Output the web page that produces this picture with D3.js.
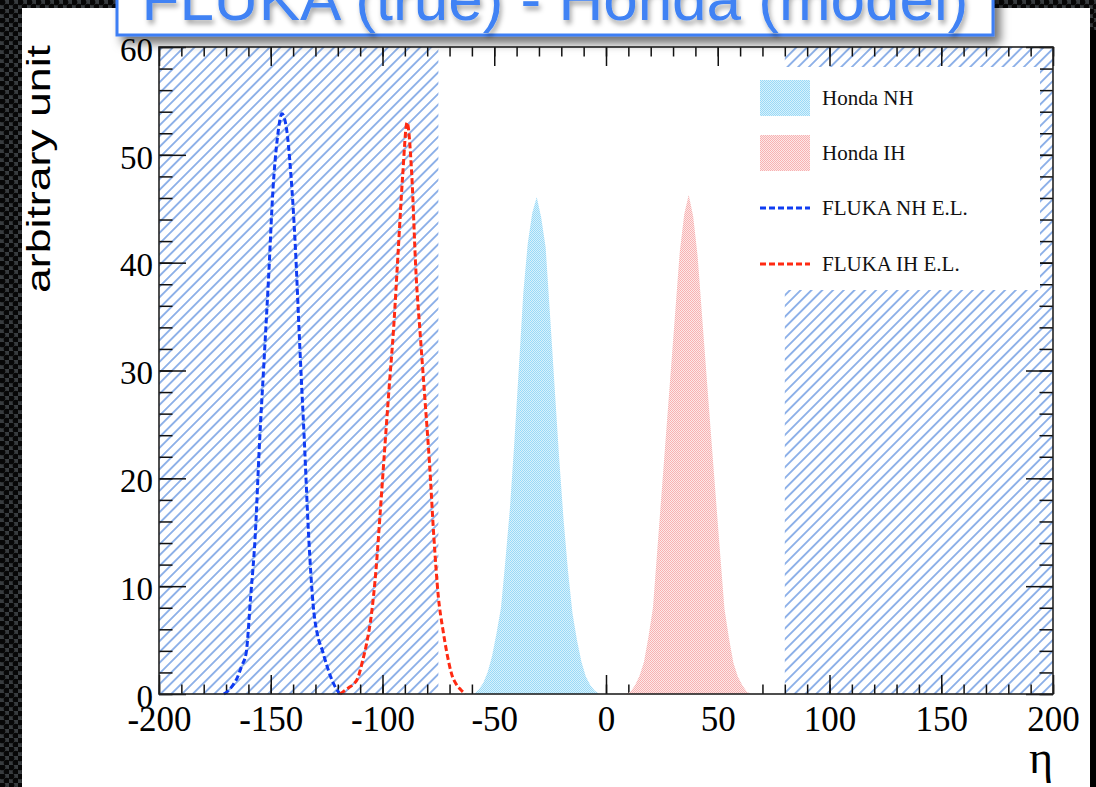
<!DOCTYPE html>
<html>
<head>
<meta charset="utf-8">
<script src="https://cdn.jsdelivr.net/npm/d3@7"></script>
<style>
  html, body { margin: 0; padding: 0; background: #000; }
  svg { display: block; }
</style>
</head>
<body>
<svg id="chart" width="1096" height="787"></svg>
<script>
// ---- data -----------------------------------------------------------
// FLUKA normal hierarchy, event-level distribution
const flukaNhEta = [-171,-169,-167,-165,-163,-161,-159,-157,-155,-153,-151,-149,-147,-145,-143,-141,-139,-137,-135,-133,-131,-129,-127,-125,-123,-121,-119];
const flukaNhVal = [0,0.3,0.8,1.5,2.6,3.8,9.0,14.5,23.4,30.9,38.5,46.8,51.6,53.8,52.5,48.2,41.5,32.2,23.6,14.5,8.2,5.4,4.1,2.7,1.5,0.6,0];

// FLUKA inverted hierarchy, event-level distribution
const flukaIhEta = [-119,-117,-115,-113,-111,-109,-107,-105,-103,-101,-99,-97,-95,-93,-91,-89,-87,-85,-83,-81,-79,-77,-75,-73,-71,-69,-67,-65,-63];
const flukaIhVal = [0,0.3,0.6,0.9,1.5,3.0,4.8,7.3,11.3,16.9,22.8,28.5,34.0,41.0,48.0,53.0,48.5,39.0,33.0,27.3,21.5,14.5,9.0,6.0,3.6,1.8,0.9,0.4,0];

// Honda normal hierarchy
const hondaNhEta = [-59,-57,-55,-53,-51,-49,-47,-45,-43,-41,-39,-37,-35,-33,-31,-29,-27,-25,-23,-21,-19,-17,-15,-13,-11,-9,-7,-5,-3];
const hondaNhVal = [0,0.4,1.0,2.0,3.5,5.6,8.0,12.4,17.2,23.4,30.2,37.2,41.8,44.6,46.1,44.2,41.4,35.0,28.5,22.0,16.2,11.4,7.5,5.0,3.0,1.6,0.8,0.3,0];

// Honda inverted hierarchy
const hondaIhEta = [9,11,13,15,17,19,21,23,25,27,29,31,33,35,37,39,41,43,45,47,49,51,53,55,57,59,61,63,65];
const hondaIhVal = [0,0.2,0.8,1.7,3.0,5.3,8.0,13.5,19.0,24.5,30.0,35.5,41.0,44.5,46.3,44.3,40.6,35.0,29.5,24.0,18.6,13.2,7.9,5.2,2.9,1.6,0.8,0.2,0];

// excluded η ranges (hatched)
const excludedRanges = [[-200, -75], [80, 200]];

// axis ticks and labels
const xMajor = [-200, -150, -100, -50, 0, 50, 100, 150, 200];
const xTickLabels = ["-200", "-150", "-100", "-50", "0", "50", "100", "150", "200"];
const yMajor = [0, 10, 20, 30, 40, 50, 60];
const yTickLabels = ["0", "10", "20", "30", "40", "50", "60"];

const legendLabels = ["Honda NH", "Honda IH", "FLUKA NH E.L.", "FLUKA IH E.L."];
const titleText = "FLUKA (true) - Honda (model)";

// ---- setup ----------------------------------------------------------
const svg = d3.select("#chart");
const W = 1096, H = 787;
const x = d3.scaleLinear().domain([-200, 200]).range([159, 1053]);
const y = d3.scaleLinear().domain([0, 60]).range([694, 47]);

const blueLine = "#0f3cf2";
const redLine = "#ff2a12";
const hatchColor = "#6494e0";
const serif = "'Liberation Serif', 'Times New Roman', serif";
const sans = "'Liberation Sans', Arial, Helvetica, sans-serif";

const defs = svg.append("defs");

// perforated dark backdrop
const perf = defs.append("pattern").attr("id", "perf")
  .attr("patternUnits", "userSpaceOnUse").attr("width", 9).attr("height", 9);
perf.append("rect").attr("width", 9).attr("height", 9).attr("fill", "#383c3f");
perf.append("circle").attr("cx", 2.25).attr("cy", 2.25).attr("r", 3.1).attr("fill", "#070707");
perf.append("circle").attr("cx", 6.75).attr("cy", 6.75).attr("r", 3.1).attr("fill", "#070707");

// diagonal hatch
const hatch = defs.append("pattern").attr("id", "hatch")
  .attr("patternUnits", "userSpaceOnUse").attr("width", 7.6).attr("height", 7.6)
  .attr("patternTransform", "rotate(45)");
hatch.append("line").attr("x1", 3.8).attr("x2", 3.8).attr("y1", -1).attr("y2", 9)
  .attr("stroke", hatchColor).attr("stroke-width", 1.4);

// dithered fills: two alternating tones
function dither(id, dark, light) {
  const p = defs.append("pattern").attr("id", id)
    .attr("patternUnits", "userSpaceOnUse").attr("width", 2).attr("height", 2);
  p.append("rect").attr("x", 0).attr("y", 0).attr("width", 2).attr("height", 2).attr("fill", light);
  p.append("rect").attr("x", 0).attr("y", 0).attr("width", 1).attr("height", 1).attr("fill", dark);
  p.append("rect").attr("x", 1).attr("y", 1).attr("width", 1).attr("height", 1).attr("fill", dark);
}
dither("fillNH", "#9bd9f7", "#d8f2fc");
dither("fillIH", "#f7b2b2", "#fde7e7");

// shadows for the title box and text
const shadow = defs.append("filter").attr("id", "shadow")
  .attr("x", "-10%").attr("y", "-50%").attr("width", "120%").attr("height", "220%");
shadow.append("feDropShadow").attr("dx", 6).attr("dy", 7).attr("stdDeviation", 5)
  .attr("flood-color", "#000").attr("flood-opacity", 0.55);
const tshadow = defs.append("filter").attr("id", "tshadow")
  .attr("x", "-5%").attr("y", "-30%").attr("width", "110%").attr("height", "160%");
tshadow.append("feDropShadow").attr("dx", 2).attr("dy", 4).attr("stdDeviation", 2.5)
  .attr("flood-color", "#000").attr("flood-opacity", 0.35);

// ---- backdrop and page ---------------------------------------------
svg.append("rect").attr("width", W).attr("height", H).attr("fill", "url(#perf)");
svg.append("rect").attr("x", 1090).attr("y", 30).attr("width", 6).attr("height", H).attr("fill", "#000");
svg.append("rect").attr("x", 22).attr("y", 8).attr("width", 1068).attr("height", H).attr("fill", "#fff");

// ---- excluded regions ------------------------------------------------
svg.append("g").selectAll("rect").data(excludedRanges).join("rect")
  .attr("x", d => x(d[0])).attr("width", d => x(d[1]) - x(d[0]))
  .attr("y", y(60)).attr("height", y(0) - y(60))
  .attr("fill", "url(#hatch)");

// ---- axes ticks -------------------------------------------------------
function styleAxis(g) {
  g.select(".domain").remove();
  g.selectAll(".tick line").attr("stroke", "#111").attr("stroke-width", 1.5);
}
const minorX = d3.range(-200, 201, 10);
const minorY = d3.range(0, 61, 2);

const axes = svg.append("g");
axes.append("g").attr("transform", `translate(0,${y(0)})`)
  .call(d3.axisBottom(x).tickValues(minorX).tickSize(-9.5).tickFormat(""))
  .call(styleAxis);
axes.append("g").attr("transform", `translate(0,${y(60)})`)
  .call(d3.axisTop(x).tickValues(minorX).tickSize(-9.5).tickFormat(""))
  .call(styleAxis);
axes.append("g").attr("transform", `translate(0,${y(60)})`)
  .call(d3.axisTop(x).tickValues(xMajor).tickSize(-19).tickFormat(""))
  .call(styleAxis);
axes.append("g").attr("transform", `translate(${x(-200)},0)`)
  .call(d3.axisLeft(y).tickValues(minorY).tickSize(-13.5).tickFormat(""))
  .call(styleAxis);
axes.append("g").attr("transform", `translate(${x(200)},0)`)
  .call(d3.axisRight(y).tickValues(minorY).tickSize(-13.5).tickFormat(""))
  .call(styleAxis);
axes.append("g").attr("transform", `translate(${x(200)},0)`)
  .call(d3.axisRight(y).tickValues(yMajor).tickSize(-27).tickFormat(""))
  .call(styleAxis);

// bottom axis with labels
const xAxisG = svg.append("g").attr("transform", `translate(0,${y(0)})`)
  .call(d3.axisBottom(x).tickValues(xMajor).tickSize(-19).tickPadding(12)
    .tickFormat((d, i) => xTickLabels[i]))
  .call(styleAxis);
xAxisG.selectAll("text").attr("font-family", serif).attr("font-size", 35).attr("fill", "#000");

// left axis with labels
const yAxisG = svg.append("g").attr("transform", `translate(${x(-200)},0)`)
  .call(d3.axisLeft(y).tickValues(yMajor).tickSize(-27).tickPadding(6)
    .tickFormat((d, i) => yTickLabels[i]))
  .call(styleAxis);
yAxisG.selectAll("text").attr("font-family", serif).attr("font-size", 33)
  .attr("fill", "#000").attr("dy", "0.4em");

// ---- Honda fills -------------------------------------------------------
const area = d3.area().x(d => x(d[0])).y0(y(0)).y1(d => y(d[1])).curve(d3.curveLinear);
const zip = (a, b) => a.map((v, i) => [v, b[i]]);
svg.append("path").datum(zip(hondaNhEta, hondaNhVal))
  .attr("d", area).attr("fill", "url(#fillNH)");
svg.append("path").datum(zip(hondaIhEta, hondaIhVal))
  .attr("d", area).attr("fill", "url(#fillIH)");

// ---- FLUKA dashed curves ----------------------------------------------
const line = d3.line().x(d => x(d[0])).y(d => y(d[1])).curve(d3.curveMonotoneX);
svg.append("path").datum(zip(flukaNhEta, flukaNhVal))
  .attr("d", line).attr("fill", "none").attr("stroke", blueLine)
  .attr("stroke-width", 3).attr("stroke-dasharray", "6,3");
svg.append("path").datum(zip(flukaIhEta, flukaIhVal))
  .attr("d", line).attr("fill", "none").attr("stroke", redLine)
  .attr("stroke-width", 3).attr("stroke-dasharray", "6,3");

// ---- legend ----------------------------------------------------------------
const legend = svg.append("g");
legend.append("rect").attr("x", 745).attr("y", 67).attr("width", 295).attr("height", 223).attr("fill", "#fff");
const legY = [98, 153, 208, 264];
legend.append("rect").attr("x", 760).attr("y", legY[0] - 18).attr("width", 50).attr("height", 36).attr("fill", "url(#fillNH)");
legend.append("rect").attr("x", 760).attr("y", legY[1] - 18).attr("width", 50).attr("height", 36).attr("fill", "url(#fillIH)");
legend.append("line").attr("x1", 760).attr("x2", 810).attr("y1", legY[2]).attr("y2", legY[2])
  .attr("stroke", blueLine).attr("stroke-width", 3).attr("stroke-dasharray", "6,3");
legend.append("line").attr("x1", 760).attr("x2", 810).attr("y1", legY[3]).attr("y2", legY[3])
  .attr("stroke", redLine).attr("stroke-width", 3).attr("stroke-dasharray", "6,3");
legend.selectAll("text.lab").data(legendLabels).join("text").attr("class", "lab")
  .attr("x", 822).attr("y", (d, i) => legY[i] + 7)
  .attr("font-family", serif).attr("font-size", 21).attr("fill", "#111")
  .text(d => d);

// ---- frame ---------------------------------------------------------------
svg.append("rect").attr("x", x(-200)).attr("y", y(60))
  .attr("width", x(200) - x(-200)).attr("height", y(0) - y(60))
  .attr("fill", "none").attr("stroke", "#222").attr("stroke-width", 1.6);

// ---- axis titles ---------------------------------------------------------
svg.append("text").attr("transform", "translate(50,169) rotate(-90)")
  .attr("text-anchor", "middle").attr("font-family", sans).attr("font-size", 34)
  .attr("textLength", 248).attr("lengthAdjust", "spacingAndGlyphs")
  .attr("fill", "#000").text("arbitrary unit");
svg.append("text").attr("x", 1053).attr("y", 773).attr("text-anchor", "end")
  .attr("font-family", serif).attr("font-size", 46).attr("fill", "#000").text("η");

// ---- title box -------------------------------------------------------------
svg.append("rect").attr("x", 117).attr("y", -30).attr("width", 876).attr("height", 65)
  .attr("fill", "#fff").attr("stroke", "#3d7ef4").attr("stroke-width", 3)
  .attr("filter", "url(#shadow)");
svg.append("text").attr("x", 555).attr("y", 20).attr("text-anchor", "middle")
  .attr("font-family", sans).attr("font-size", 62).attr("fill", "#3f82f4")
  .attr("filter", "url(#tshadow)")
  .text(titleText);
</script>
</body>
</html>
